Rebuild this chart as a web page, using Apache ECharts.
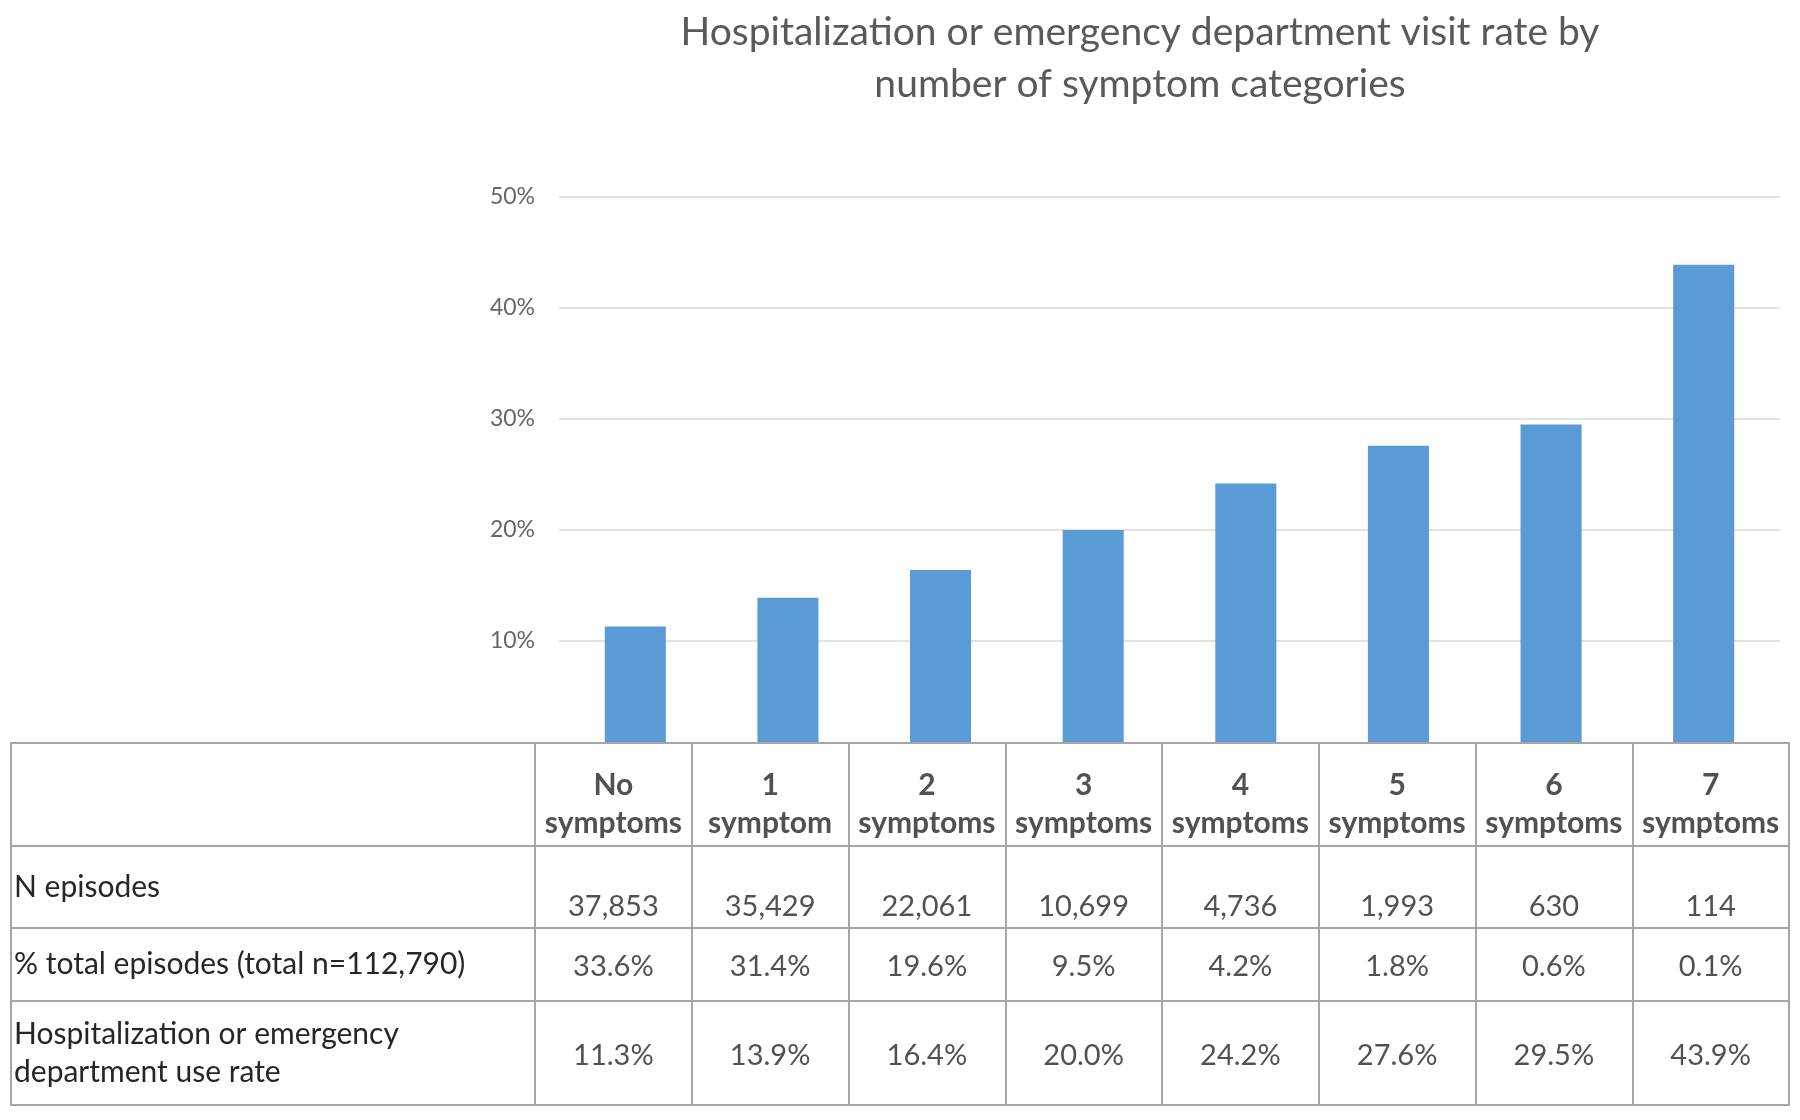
<!DOCTYPE html>
<html>
<head>
<meta charset="utf-8">
<script src="https://cdn.jsdelivr.net/npm/echarts@6/dist/echarts.min.js"></script>
<style>
  html, body { margin: 0; padding: 0; background: #fff; }
  #chart { width: 1800px; height: 1120px; }
</style>
</head>
<body>
<div id="chart"></div>
<script>
var categories = ['No\nsymptoms', '1\nsymptom', '2\nsymptoms', '3\nsymptoms', '4\nsymptoms', '5\nsymptoms', '6\nsymptoms', '7\nsymptoms'];
var nEpisodes = [37853, 35429, 22061, 10699, 4736, 1993, 630, 114];
var pctTotal = [33.6, 31.4, 19.6, 9.5, 4.2, 1.8, 0.6, 0.1];
var hospRate = [11.3, 13.9, 16.4, 20.0, 24.2, 27.6, 29.5, 43.9];
var rowLabels = ['', 'N episodes', '% total episodes (total n=112,790)', 'Hospitalization or emergency\ndepartment use rate'];

var chart = echarts.init(document.getElementById('chart'));

var FONT = 'Lato';
var BORDER = '#a6a6a6';
var TEXT = '#262626';

// table rows: top, height, text offset
var rows = [
    { top: 743, height: 103, dy: 10, bold: true, size: 30 },
    { top: 846, height: 82, dy: 20, size: 29 },
    { top: 928, height: 73, dy: 2, size: 29 },
    { top: 1001, height: 104, dy: 3, size: 29 }
];
var rowTexts = [
    categories,
    nEpisodes.map(function (v) { return v.toLocaleString('en-US'); }),
    pctTotal.map(function (v) { return v.toFixed(1) + '%'; }),
    hospRate.map(function (v) { return v.toFixed(1) + '%'; })
];

var grids = [{ left: 559, right: 20, top: 197, bottom: 368, outerBoundsMode: 'none' }];
var xAxes = [{
    type: 'category', gridIndex: 0, data: categories,
    axisLine: { show: false }, axisTick: { show: false }, axisLabel: { show: false }
}];
var yAxes = [{
    type: 'value', gridIndex: 0, min: 0, max: 50, interval: 10,
    axisLine: { show: false }, axisTick: { show: false },
    axisLabel: { color: '#666', fontFamily: FONT, fontSize: 23, margin: 24, formatter: '{value}%' },
    splitLine: { lineStyle: { color: '#d9d9d9', width: 1.5 } }
}];
var series = [{
    type: 'bar', xAxisIndex: 0, yAxisIndex: 0,
    data: hospRate, barWidth: '40%',
    itemStyle: { color: '#5b9bd5' }, silent: true
}];

rows.forEach(function (row, r) {
    var gl = grids.length;
    // label column
    grids.push({
        left: 11, width: 524, top: row.top, height: row.height, z: 3,
        show: true, backgroundColor: '#fff', borderColor: BORDER, borderWidth: 2, outerBoundsMode: 'none'
    });
    // value columns
    grids.push({
        left: 535, right: 11, top: row.top, height: row.height, z: 3,
        show: true, backgroundColor: '#fff', borderColor: BORDER, borderWidth: 2, outerBoundsMode: 'none'
    });
    xAxes.push({ type: 'value', gridIndex: gl, min: 0, max: 1, show: false });
    yAxes.push({
        type: 'category', gridIndex: gl, data: [rowLabels[r]], z: 4,
        axisLine: { show: false }, axisTick: { show: false }, splitLine: { show: false },
        axisLabel: { inside: true, margin: 3, color: TEXT, fontFamily: FONT, fontSize: 30, lineHeight: 38 }
    });
    xAxes.push({
        type: 'category', gridIndex: gl + 1, data: categories, position: 'top', z: 4,
        axisLine: { show: false }, axisTick: { show: false }, axisLabel: { show: false },
        splitLine: { show: true, lineStyle: { color: BORDER, width: 2 } }
    });
    yAxes.push({ type: 'value', gridIndex: gl + 1, min: 0, max: 1, show: false });
    series.push({
        type: 'scatter', z: 5, silent: true,
        xAxisIndex: gl + 1, yAxisIndex: gl + 1,
        symbolSize: 1, itemStyle: { color: 'rgba(0,0,0,0)' },
        data: rowTexts[r].map(function (t, i) { return [i, 0.5]; }),
        label: {
            show: true, position: 'inside', offset: [0, row.dy],
            color: TEXT, fontFamily: FONT, fontSize: row.size, lineHeight: 38,
            fontWeight: row.bold ? 'bold' : 'normal',
            formatter: function (p) { return rowTexts[r][p.dataIndex]; }
        }
    });
});

var option = {
    backgroundColor: '#fff',
    animation: false,
    title: {
        text: 'Hospitalization or emergency department visit rate by\nnumber of symptom categories',
        left: 1140, top: 6, textAlign: 'center', padding: 0,
        textStyle: { color: '#595959', fontFamily: FONT, fontSize: 39, fontWeight: 'normal', lineHeight: 52 }
    },
    grid: grids,
    xAxis: xAxes,
    yAxis: yAxes,
    series: series
};
chart.setOption(option);
</script>
</body>
</html>
